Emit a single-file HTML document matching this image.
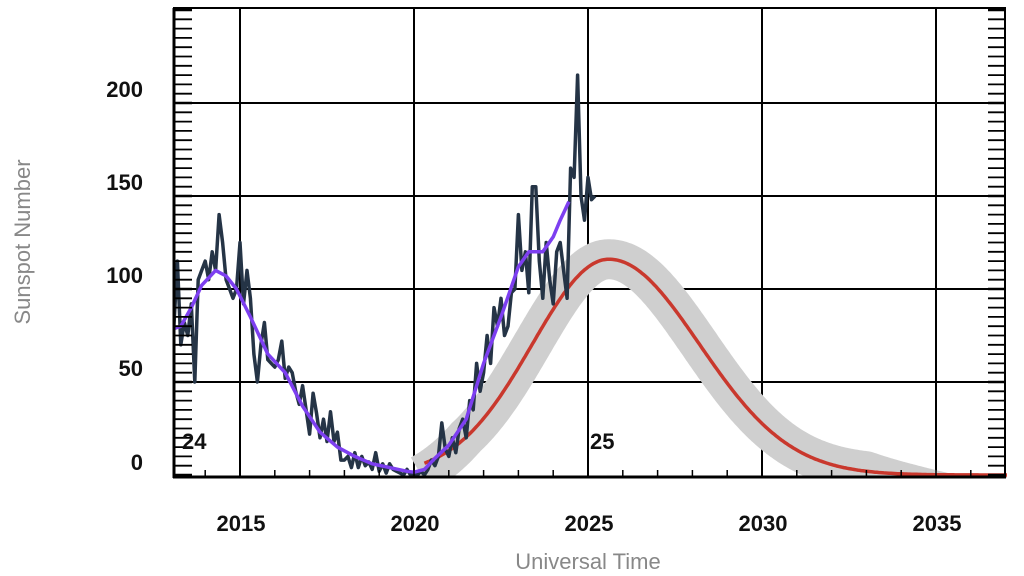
<!DOCTYPE html>
<html><head><meta charset="utf-8"><style>
body{margin:0;background:#fff;}
svg{display:block;font-family:"Liberation Sans",sans-serif;}
</style></head><body>
<svg id="s" width="1024" height="576" xmlns="http://www.w3.org/2000/svg">
<rect width="1024" height="576" fill="#fff"/>
<g id="grid" stroke="#000" stroke-width="2"></g>
<path id="band" fill="none" stroke="#cfcfcf" stroke-width="40" stroke-linejoin="round"/>
<path id="pred" fill="none" stroke="#c9382d" stroke-width="3.5"/>
<path id="mon" fill="none" stroke="#253446" stroke-width="3.5" stroke-linejoin="round"/>
<path id="sm" fill="none" stroke="#7d3ff0" stroke-width="3.5" stroke-linejoin="round"/>
<rect x="0" y="0" width="173" height="576" fill="#fff"/>
<rect x="1007" y="0" width="17" height="576" fill="#fff"/>
<rect x="173" y="478" width="834" height="98" fill="#fff"/>
<g id="ax" stroke="#000"></g>
<g font-size="22" font-weight="bold" fill="#111" text-anchor="end">
<text x="143" y="97">200</text><text x="143" y="190">150</text><text x="143" y="283">100</text><text x="143" y="376">50</text><text x="143" y="470">0</text>
</g>
<g font-size="22" font-weight="bold" fill="#111" text-anchor="middle">
<text x="241" y="531">2015</text><text x="415" y="531">2020</text><text x="589" y="531">2025</text><text x="763" y="531">2030</text><text x="937" y="531">2035</text>
</g>
<text x="182" y="449" font-size="22" font-weight="bold" fill="#111">24</text>
<text x="590" y="449" font-size="22" font-weight="bold" fill="#111">25</text>
<text x="588" y="569" font-size="22" fill="#888" text-anchor="middle">Universal Time</text>
<text transform="translate(30,242) rotate(-90)" font-size="22" fill="#888" text-anchor="middle">Sunspot Number</text>
</svg>
<script>
const X=y=>240+(y-2015)*34.8, Y=v=>475-v*1.86;
let g='';
[2015,2020,2025,2030,2035].forEach(y=>g+=`<line x1="${X(y)}" y1="8" x2="${X(y)}" y2="477"/>`);
[50,100,150,200].forEach(v=>g+=`<line x1="173" y1="${Y(v)}" x2="1006" y2="${Y(v)}"/>`);
document.getElementById('grid').innerHTML=g;
let a='<line x1="173" y1="8" x2="1006" y2="8" stroke-width="2"/><line x1="174" y1="8" x2="174" y2="478" stroke-width="3"/><line x1="1005" y1="8" x2="1005" y2="478" stroke-width="2"/><line x1="173" y1="477" x2="1006" y2="477" stroke-width="3"/>';
for(let v=0;v<=250;v+=5){let y=Y(v);if(y<9)continue;let w=v%50==0?2.5:1.8;a+=`<line x1="174" y1="${y}" x2="192" y2="${y}" stroke-width="${w}"/><line x1="988" y1="${y}" x2="1005" y2="${y}" stroke-width="${w}"/>`;}
for(let yr=2014;yr<=2036;yr++){a+=`<line x1="${X(yr)}" y1="477" x2="${X(yr)}" y2="470" stroke-width="1.5"/>`;}
document.getElementById('ax').innerHTML=a;
function f(t){const p=2025.6,s=t<p?2.2:2.6;return 116*Math.exp(-(t-p)*(t-p)/(2*s*s));}
let pp=[],bp=[];for(let t=2020.3;t<=2037.1;t+=0.05){pp.push(X(t).toFixed(1)+','+Y(f(t)).toFixed(1));}
for(let t=2020.2;t<=2037.1;t+=0.05){bp.push(X(t).toFixed(1)+','+(Y(f(t))+ (t<2021.5?(2021.5-t)*8:0) + (t>2033?Math.min((t-2033)*8,20):0)).toFixed(1));}
document.getElementById('pred').setAttribute('d','M'+pp.join('L'));
document.getElementById('band').setAttribute('d','M'+bp.join('L'));
const m=[[2013.0,55],[2013.1,80],[2013.2,115],[2013.3,70],[2013.4,82],[2013.5,75],[2013.6,92],[2013.7,50],[2013.8,105],[2013.9,110],[2014.0,115],[2014.1,105],[2014.2,120],[2014.3,110],[2014.4,140],[2014.5,125],[2014.6,105],[2014.7,100],[2014.8,95],[2014.9,100],[2015.0,125],[2015.1,92],[2015.2,110],[2015.3,95],[2015.4,65],[2015.5,50],[2015.6,70],[2015.7,82],[2015.8,62],[2015.9,60],[2016.0,58],[2016.1,62],[2016.2,72],[2016.3,52],[2016.4,58],[2016.5,55],[2016.6,45],[2016.7,38],[2016.8,48],[2016.9,35],[2017.0,22],[2017.1,44],[2017.2,33],[2017.3,20],[2017.4,30],[2017.5,18],[2017.6,34],[2017.7,18],[2017.8,23],[2017.9,8],[2018.0,8],[2018.1,10],[2018.2,4],[2018.3,12],[2018.4,4],[2018.5,10],[2018.6,5],[2018.7,7],[2018.8,3],[2018.9,12],[2019.0,2],[2019.1,6],[2019.2,1],[2019.3,6],[2019.4,3],[2019.5,2],[2019.6,1],[2019.7,0],[2019.8,3],[2019.9,0],[2020.0,1],[2020.1,0],[2020.2,2],[2020.3,0],[2020.4,3],[2020.5,8],[2020.6,5],[2020.7,10],[2020.8,28],[2020.9,14],[2021.0,10],[2021.1,20],[2021.2,12],[2021.3,25],[2021.4,30],[2021.5,20],[2021.6,40],[2021.7,35],[2021.8,60],[2021.9,45],[2022.0,55],[2022.1,75],[2022.2,60],[2022.3,90],[2022.4,80],[2022.5,95],[2022.6,75],[2022.7,80],[2022.8,98],[2022.9,100],[2023.0,140],[2023.1,110],[2023.2,120],[2023.3,98],[2023.4,155],[2023.5,155],[2023.6,115],[2023.7,95],[2023.8,125],[2023.9,105],[2024.0,92],[2024.1,120],[2024.2,125],[2024.3,110],[2024.4,95],[2024.5,165],[2024.6,160],[2024.7,215],[2024.8,150],[2024.9,137],[2025.0,160],[2025.1,148],[2025.2,150]];
document.getElementById('mon').setAttribute('d','M'+m.map(p=>X(p[0]).toFixed(1)+','+Y(p[1]).toFixed(1)).join('L'));
const s=[[2013.0,78],[2013.3,80],[2013.6,90],[2013.9,102],[2014.3,110],[2014.6,107],[2014.9,100],[2015.3,85],[2015.8,65],[2016.3,55],[2016.8,37],[2017.3,23],[2017.8,15],[2018.3,10],[2018.8,6],[2019.3,4],[2019.8,2],[2020.0,1.5],[2020.3,3],[2020.6,9],[2021.0,16],[2021.5,30],[2022.0,60],[2022.5,85],[2023.0,112],[2023.3,120],[2023.7,120],[2024.0,128],[2024.2,137],[2024.45,147]];
document.getElementById('sm').setAttribute('d','M'+s.map(p=>X(p[0]).toFixed(1)+','+Y(p[1]).toFixed(1)).join('L'));
</script>
</body></html>
